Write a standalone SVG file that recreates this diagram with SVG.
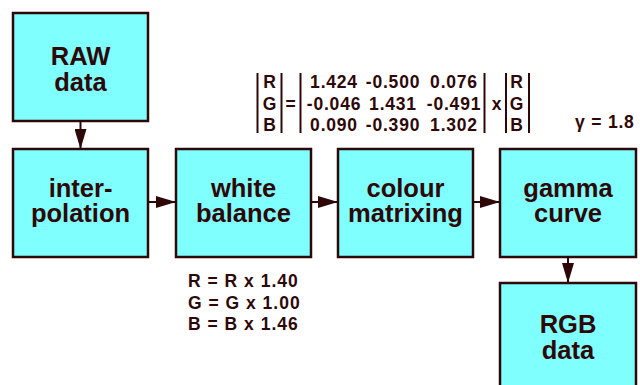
<svg xmlns="http://www.w3.org/2000/svg" width="640" height="385" viewBox="0 0 640 385">
<style>
.box{fill:#80ffff;stroke:#2e0808;stroke-width:2.5}
.lbl{font-family:"Liberation Sans",Arial,sans-serif;font-weight:bold;font-size:25.5px;fill:#2e0808;text-anchor:middle}
.sm{font-family:"Liberation Sans",Arial,sans-serif;font-weight:bold;font-size:17.5px;letter-spacing:0.8px;fill:#2e0808}
.wb{font-family:"Liberation Sans",Arial,sans-serif;font-weight:bold;font-size:17.5px;letter-spacing:1px;fill:#2e0808}
.mid{text-anchor:middle}
.con{stroke:#2e0808;stroke-width:2;fill:none}
.bar{stroke:#2e0808;stroke-width:2}
</style>
<defs>
<marker id="ah" markerUnits="userSpaceOnUse" markerWidth="20" markerHeight="12" refX="20" refY="6" orient="auto">
<path d="M0,0 L20,6 L0,12 z" fill="#2e0808"/>
</marker>
</defs>
<g id="connectors">
<line class="con" x1="80.5" y1="121" x2="80.5" y2="149" marker-end="url(#ah)"/>
<line class="con" x1="148" y1="202" x2="176" y2="202" marker-end="url(#ah)"/>
<line class="con" x1="311" y1="202" x2="338" y2="202" marker-end="url(#ah)"/>
<line class="con" x1="473" y1="202" x2="500" y2="202" marker-end="url(#ah)"/>
<line class="con" x1="568" y1="256" x2="568" y2="283" marker-end="url(#ah)"/>
</g>
<g id="raw">
<rect class="box" x="13" y="13" width="135" height="108"/>
<text class="lbl" x="80.5" y="65">RAW</text>
<text class="lbl" x="80.5" y="91">data</text>
</g>
<g id="interpolation">
<rect class="box" x="13" y="149" width="135" height="108"/>
<text class="lbl" x="80.5" y="197">inter-</text>
<text class="lbl" x="80.5" y="222">polation</text>
</g>
<g id="whitebalance">
<rect class="box" x="176" y="149" width="135" height="108"/>
<text class="lbl" x="243.5" y="197">white</text>
<text class="lbl" x="243.5" y="222">balance</text>
</g>
<g id="colourmatrixing">
<rect class="box" x="338" y="149" width="135" height="108"/>
<text class="lbl" x="405.5" y="197">colour</text>
<text class="lbl" x="405.5" y="222">matrixing</text>
</g>
<g id="gammacurve">
<rect class="box" x="500" y="149" width="136" height="108"/>
<text class="lbl" x="568" y="197">gamma</text>
<text class="lbl" x="568" y="222">curve</text>
</g>
<g id="rgb">
<rect class="box" x="500" y="283" width="136" height="108"/>
<text class="lbl" x="568" y="333">RGB</text>
<text class="lbl" x="568" y="359">data</text>
</g>
<g id="matrix">
<line class="bar" x1="257.5" y1="73" x2="257.5" y2="133"/>
<line class="bar" x1="281.5" y1="73" x2="281.5" y2="133"/>
<line class="bar" x1="300.5" y1="73" x2="300.5" y2="133"/>
<line class="bar" x1="484.5" y1="73" x2="484.5" y2="133"/>
<line class="bar" x1="506" y1="73" x2="506" y2="133"/>
<line class="bar" x1="529" y1="73" x2="529" y2="133"/>
<text class="sm mid" x="270" y="88">R</text>
<text class="sm mid" x="270" y="109.5">G</text>
<text class="sm mid" x="270" y="131">B</text>
<text class="sm mid" x="291" y="109.5">=</text>
<text class="sm mid" x="334" y="88">1.424</text>
<text class="sm mid" x="334" y="109.5">-0.046</text>
<text class="sm mid" x="334" y="131">0.090</text>
<text class="sm mid" x="393" y="88">-0.500</text>
<text class="sm mid" x="393" y="109.5">1.431</text>
<text class="sm mid" x="393" y="131">-0.390</text>
<text class="sm mid" x="454" y="88">0.076</text>
<text class="sm mid" x="454" y="109.5">-0.491</text>
<text class="sm mid" x="454" y="131">1.302</text>
<text class="sm mid" x="497" y="109.5">x</text>
<text class="sm mid" x="517" y="88">R</text>
<text class="sm mid" x="517" y="109.5">G</text>
<text class="sm mid" x="517" y="131">B</text>
</g>
<text class="sm" x="575" y="128">γ = 1.8</text>
<g id="wbtext">
<text class="wb" x="188" y="286.5">R = R x 1.40</text>
<text class="wb" x="188" y="308.5">G = G x 1.00</text>
<text class="wb" x="188" y="330">B = B x 1.46</text>
</g>
</svg>
